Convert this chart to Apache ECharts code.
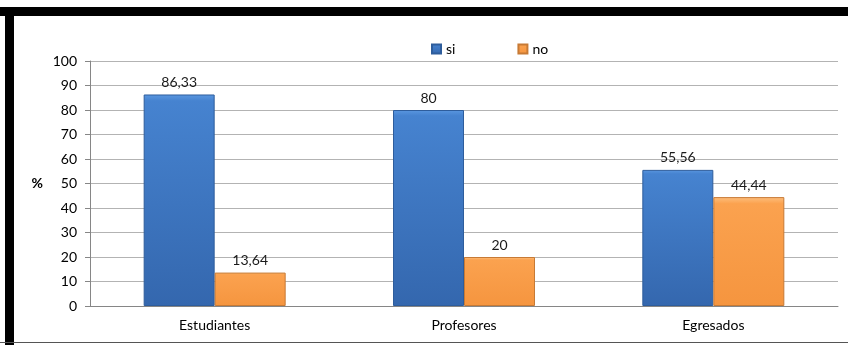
<!DOCTYPE html>
<html>
<head>
<meta charset="utf-8">
<script src="https://cdn.jsdelivr.net/npm/echarts@6/dist/echarts.min.js"></script>
<style>html,body{margin:0;padding:0;background:#fff}#c{width:848px;height:345px}</style>
</head>
<body>
<div id="c"></div>
<script>
const categories = ['Estudiantes', 'Profesores', 'Egresados'];
const siValues = [86.33, 80, 55.56];
const noValues = [13.64, 20, 44.44];
const yTicks = { min: 0, max: 100, interval: 10 };

const chart = echarts.init(document.getElementById('c'), null, { renderer: 'canvas' });
const fmt = p => String(p.value).replace('.', ',');
const font = 'Lato, "Open Sans", sans-serif';

chart.setOption({
  animation: false,
  textStyle: { fontFamily: font },
  graphic: [
    { type: 'rect', shape: { x: 0, y: 7, width: 848, height: 9 }, style: { fill: '#000' }, z: 100 },
    { type: 'rect', shape: { x: 5, y: 7, width: 9, height: 338 }, style: { fill: '#000' }, z: 100 },
    { type: 'rect', shape: { x: 0, y: 342, width: 848, height: 1 }, style: { fill: '#555' }, z: 100 }
  ],
  legend: {
    left: 426, top: 37, icon: 'rect',
    itemWidth: 9, itemHeight: 9, itemGap: 62,
    textStyle: { fontSize: 14, color: '#000', fontFamily: font },
    data: ['si', 'no']
  },
  grid: { left: 90, right: 10, top: 61, bottom: 39 },
  xAxis: {
    type: 'category',
    data: categories,
    axisLine: { lineStyle: { color: '#868686' } },
    axisTick: { length: 5, lineStyle: { color: '#868686' } },
    axisLabel: { color: '#000', fontSize: 14, margin: 12, fontFamily: font }
  },
  yAxis: {
    type: 'value',
    min: yTicks.min, max: yTicks.max, interval: yTicks.interval,
    name: '%',
    nameLocation: 'middle', nameRotate: 0, nameGap: 47,
    nameTextStyle: { fontWeight: 'bold', fontSize: 14, color: '#000', fontFamily: font },
    axisLine: { show: true, lineStyle: { color: '#868686' } },
    axisTick: { show: true, length: 5, lineStyle: { color: '#868686' } },
    axisLabel: { color: '#000', fontSize: 14, margin: 13, fontFamily: font },
    splitLine: { lineStyle: { color: '#b3b3b3' } }
  },
  series: [
    {
      name: 'si', type: 'bar', data: siValues, barWidth: 71, barGap: '0%',
      itemStyle: {
        color: new echarts.graphic.LinearGradient(0, 0, 0, 1, [
          { offset: 0, color: '#5a97e0' }, { offset: 0.03, color: '#4683d0' },
          { offset: 1, color: '#3467ae' }
        ]),
        borderColor: '#2e5d9c', borderWidth: 1
      },
      label: { show: true, position: 'top', distance: 5, color: '#1a1a1a', fontSize: 14, formatter: fmt, fontFamily: font }
    },
    {
      name: 'no', type: 'bar', data: noValues, barWidth: 71,
      itemStyle: {
        color: new echarts.graphic.LinearGradient(0, 0, 0, 1, [
          { offset: 0, color: '#fdbf7e' }, { offset: 0.06, color: '#fba24f' },
          { offset: 1, color: '#f5953f' }
        ]),
        borderColor: '#c77a35', borderWidth: 1
      },
      label: { show: true, position: 'top', distance: 5, color: '#1a1a1a', fontSize: 14, formatter: fmt, fontFamily: font }
    }
  ]
});
</script>
</body>
</html>
